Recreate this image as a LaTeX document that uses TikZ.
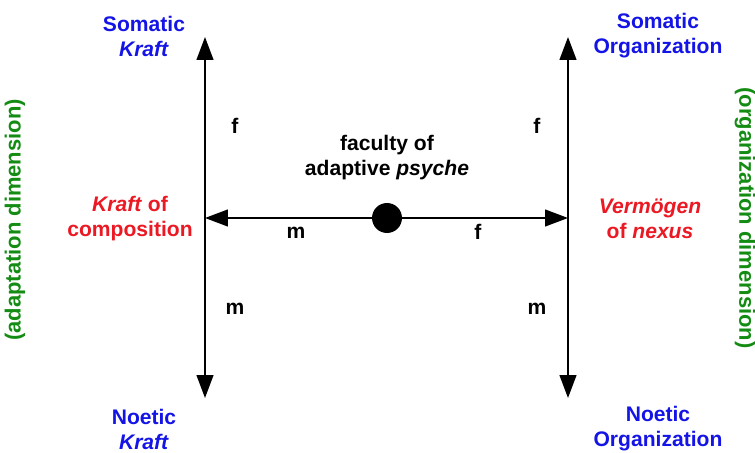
\documentclass[tikz,border=0pt]{standalone}
\usepackage{fontspec}
\setmainfont{Liberation Sans}
\usepackage{xcolor}
\usepackage{tikz}
\usetikzlibrary{arrows.meta, positioning}

\definecolor{poleblue}{RGB}{20,20,230}
\definecolor{midred}{RGB}{235,25,35}
\definecolor{dimgreen}{RGB}{20,140,20}

\begin{document}
\begin{tikzpicture}[x=0.02cm, y=-0.02cm, >={Triangle[length=13pt,width=9.5pt]},
        pole/.style={text=poleblue, font=\fontsize{12}{14.2}\selectfont\bfseries, align=center, inner sep=0pt},
        faculty/.style={text=midred, font=\fontsize{12}{14.2}\selectfont\bfseries, align=center, inner sep=0pt},
        dimension/.style={text=dimgreen, font=\fontsize{12.5}{14.2}\selectfont\bfseries, inner sep=0pt},
        tag/.style={font=\fontsize{12}{14.2}\selectfont\bfseries, inner sep=0pt},
        axis/.style={line width=1.1pt}
        ]
        \useasboundingbox (0,0) rectangle (755,453);

        % Axis ends
        \coordinate (ltop) at (205,37);
        \coordinate (lbot) at (205,398);
        \coordinate (lmid) at (205,218);
        \coordinate (rtop) at (568,37);
        \coordinate (rbot) at (568,398);
        \coordinate (rmid) at (568,218);

        % Nodes
        \node [circle, fill=black, inner sep=0pt, minimum size=0.6cm] (psy) at (387,218) {};
        \node [tag, align=center] (psytext) at (387,158) {faculty of\\adaptive \textit{psyche}};

        \node [pole] (somk) at (144,36) {Somatic\\\textit{Kraft}};
        \node [pole] (somo) at (658,36) {Somatic\\Organization};
        \node [pole] (noek) at (144,429) {Noetic\\\textit{Kraft}};
        \node [pole] (noeo) at (658,429) {Noetic\\Organization};

        \node [faculty] (kraft) at (130,219) {\textit{Kraft} of\\composition};
        \node [faculty] (verm) at (650,219) {\textit{Vermögen}\\of \textit{nexus}};

        \node [dimension, rotate=90] (adapt) at (15,220) {(adaptation dimension)};
        \node [dimension, rotate=-90] (organ) at (745,218) {(organization dimension)};

        % Edges
        \draw[<->, axis] (lbot) -- (ltop);
        \draw[<->, axis] (rbot) -- (rtop);
        \draw[->, axis] (psy) -- (lmid);
        \draw[->, axis] (psy) -- (rmid);

        % Axis labels
        \node [tag] (lf) at (235,126) {f};
        \node [tag] (rf) at (537,126) {f};
        \node [tag] (lm) at (235,309) {m};
        \node [tag] (rm) at (537,309) {m};
        \node [tag] (hm) at (296,233) {m};
        \node [tag] (hf) at (478,232) {f};

    \end{tikzpicture}
\end{document}
